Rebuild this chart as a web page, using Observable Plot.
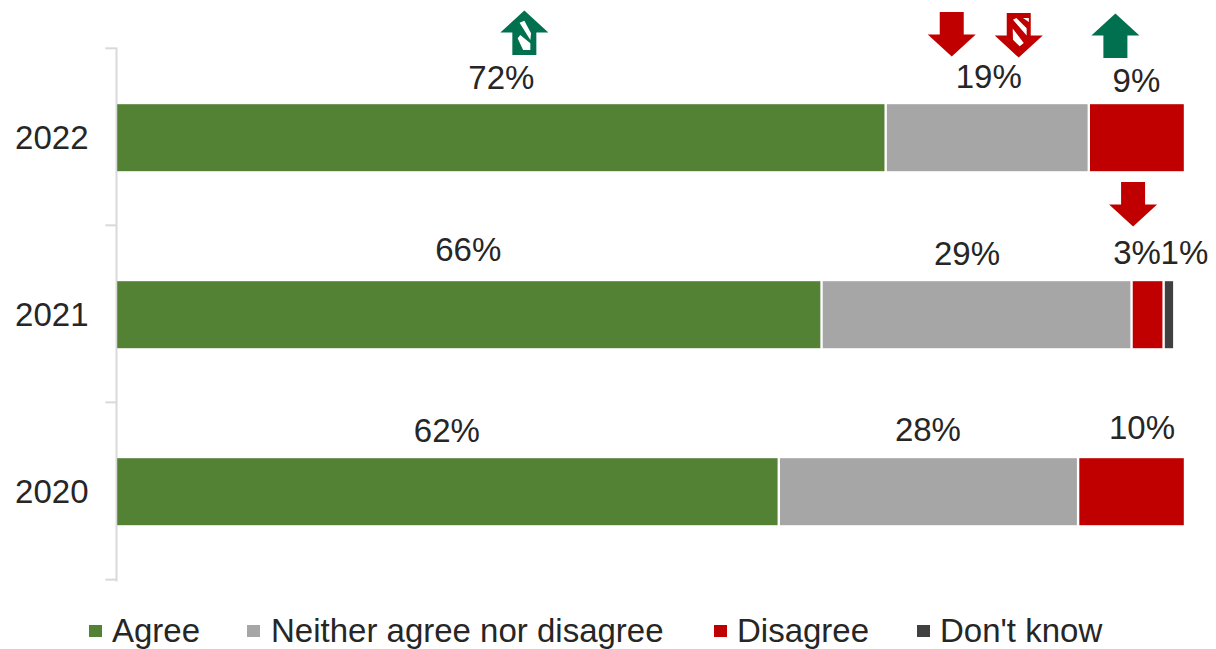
<!DOCTYPE html>
<html>
<head>
<meta charset="utf-8">
<script src="https://cdn.jsdelivr.net/npm/d3@7"></script>
<script src="https://cdn.jsdelivr.net/npm/@observablehq/plot@0.6"></script>
<style>
  html, body { margin: 0; padding: 0; background: #fff; }
  #chart { position: relative; width: 1216px; height: 649px; font-family: "Liberation Sans", Arial, sans-serif; }
  #legend { position: absolute; left: 0; top: 600px; width: 1216px; height: 49px; color: #262626; font-size: 33px; }
  #legend i { position: absolute; top: 25px; width: 13px; height: 12px; }
  #legend span { position: absolute; top: 13px; line-height: 36px; white-space: nowrap; }
</style>
</head>
<body>
<div id="chart"><div id="legend"></div></div>
<script>
const years = ["2022", "2021", "2020"];
const responses = ["Agree", "Neither agree nor disagree", "Disagree", "Don't know"];
const agree = [72, 66, 62];
const neither = [19, 29, 28];
const disagree = [9, 3, 10];
const dontKnow = [0, 1, 0];
const colours = ["#548235", "#a6a6a6", "#c00000", "#404040"];
const seriesValues = [agree, neither, disagree, dontKnow];

// Change markers: year, response they belong to, direction, significance style
const markerYears = ["2022", "2022", "2022", "2022", "2021"];
const markerResponses = ["Agree", "Neither agree nor disagree", "Neither agree nor disagree", "Disagree", "Disagree"];
const markerDirections = ["up", "down", "down", "up", "down"];
const markerHatched = [true, false, true, false, false];

// Lay the stacked segments out, share by share
const rows = [];
years.forEach((year, i) => {
  let start = 0;
  responses.forEach((response, j) => {
    const value = seriesValues[j][i];
    if (value > 0) rows.push({year, response, value, start, end: start + value, mid: start + value / 2});
    start += value;
  });
});
const rowOf = (year, response) => rows.find(d => d.year === year && d.response === response);

// Label offsets in pixels; crowded labels are nudged away from the segment middle
const labelOffsets = {
  "2022": {"Agree": [0, -59], "Neither agree nor disagree": [1, -60], "Disagree": [-1, -56]},
  "2021": {"Agree": [-1, -64], "Neither agree nor disagree": [-10, -60], "Disagree": [-11, -61], "Don't know": [15, -61]},
  "2020": {"Agree": [-1, -60], "Neither agree nor disagree": [-1, -61], "Disagree": [10, -63]}
};

// Marker offsets from the segment middle, in pixels
const markerOffsets = [[23, -104], [-36, -103], [31, -102], [-22, -101], [-15, -110]];

// Unit arrow: half head width 1, pointing up or, when flipped, down
const arrowSymbol = flip => ({
  draw(ctx, size) {
    const r = Math.sqrt(size / Math.PI), f = flip ? -1 : 1;
    ctx.moveTo(0, -0.94 * r * f);
    ctx.lineTo(r, -0.02 * r * f);
    ctx.lineTo(0.5 * r, -0.02 * r * f);
    ctx.lineTo(0.5 * r, 0.92 * r * f);
    ctx.lineTo(-0.5 * r, 0.92 * r * f);
    ctx.lineTo(-0.5 * r, -0.02 * r * f);
    ctx.lineTo(-r, -0.02 * r * f);
    ctx.closePath();
  }
});

// White diagonal stripes cut into the stem of a hatched arrow
const stripesUp = [
  [[-0.2, -0.43], [0, -0.51], [0.28, 0.01], [0.25, 0.29]],
  [[-0.28, 0.22], [-0.17, 0.08], [0.25, 0.43], [0.25, 0.71], [-0.05, 0.71]]
];
const stripesDown = [
  [[-0.24, -0.64], [-0.1, -0.71], [0.33, -0.28], [0.33, 0.02]],
  [[-0.25, -0.27], [0.21, 0.33], [0.04, 0.47], [-0.24, 0.2]],
  [[0.18, -0.71], [0.42, -0.71], [0.42, -0.54]]
];
const stripeSymbol = flip => ({
  draw(ctx, size) {
    const r = Math.sqrt(size / Math.PI);
    (flip ? stripesDown : stripesUp).forEach(q => {
      q.forEach(([x, y], k) => k ? ctx.lineTo(x * r, y * r) : ctx.moveTo(x * r, y * r));
      ctx.closePath();
    });
  }
});

const step = (580 - 48) / years.length;
const arrowR = 24;

const markerMarks = markerYears.flatMap((year, i) => {
  const row = rowOf(year, markerResponses[i]);
  const [dx, dy] = markerOffsets[i];
  const flip = markerDirections[i] === "down";
  const colour = flip ? "#c00000" : "#00704f";
  const marks = [Plot.dot([row], {x: "mid", y: "year", dx, dy, r: arrowR, symbol: arrowSymbol(flip), fill: colour, stroke: "none"})];
  if (markerHatched[i]) marks.push(Plot.dot([row], {x: "mid", y: "year", dx, dy, r: arrowR, symbol: stripeSymbol(flip), fill: "white", stroke: "none"}));
  return marks;
});

const plot = Plot.plot({
  width: 1216,
  height: 600,
  marginLeft: 116,
  marginRight: 31,
  marginTop: 48,
  marginBottom: 20,
  style: {fontFamily: '"Liberation Sans", Arial, sans-serif', background: "transparent", overflow: "visible"},
  x: {domain: [0, 100], axis: null},
  y: {domain: years, paddingInner: 0.62, paddingOuter: 0.31, label: null},
  color: {domain: responses, range: colours},
  marks: [
    Plot.frame({anchor: "left", stroke: "#d9d9d9", strokeWidth: 2, strokeOpacity: 1}),
    Plot.ruleY(years, {y: d => d, x1: -1, x2: 0, dy: -step / 2, stroke: "#d9d9d9", strokeWidth: 2}),
    Plot.ruleY(["2020"], {y: d => d, x1: -1, x2: 0, dy: step / 2, stroke: "#d9d9d9", strokeWidth: 2}),
    Plot.barX(rows, {x1: "start", x2: "end", y: "year", fill: "response", insetLeft: 1.2, insetRight: 1.2, dy: 1.2}),
    ...rows.map(d => {
      const [dx, dy] = labelOffsets[d.year][d.response];
      return Plot.text([d], {x: "mid", y: "year", text: v => `${v.value}%`, dx, dy, fontSize: 33, fill: "#262626"});
    }),
    Plot.axisY({anchor: "left", tickSize: 0, tickPadding: 28, fontSize: 33, label: null, color: "#262626", dy: 1}),
    ...markerMarks
  ]
});
const chart = document.getElementById("chart");
chart.insertBefore(plot, chart.firstChild);

// Legend row below the plot
const legendSwatchLeft = [89, 247, 714, 917];
const legendTextLeft = [112, 271, 737, 940];
const legend = document.getElementById("legend");
responses.forEach((response, i) => {
  const swatch = document.createElement("i");
  swatch.style.left = legendSwatchLeft[i] + "px";
  swatch.style.background = colours[i];
  const label = document.createElement("span");
  label.style.left = legendTextLeft[i] + "px";
  label.textContent = response;
  legend.append(swatch, label);
});
</script>
</body>
</html>
